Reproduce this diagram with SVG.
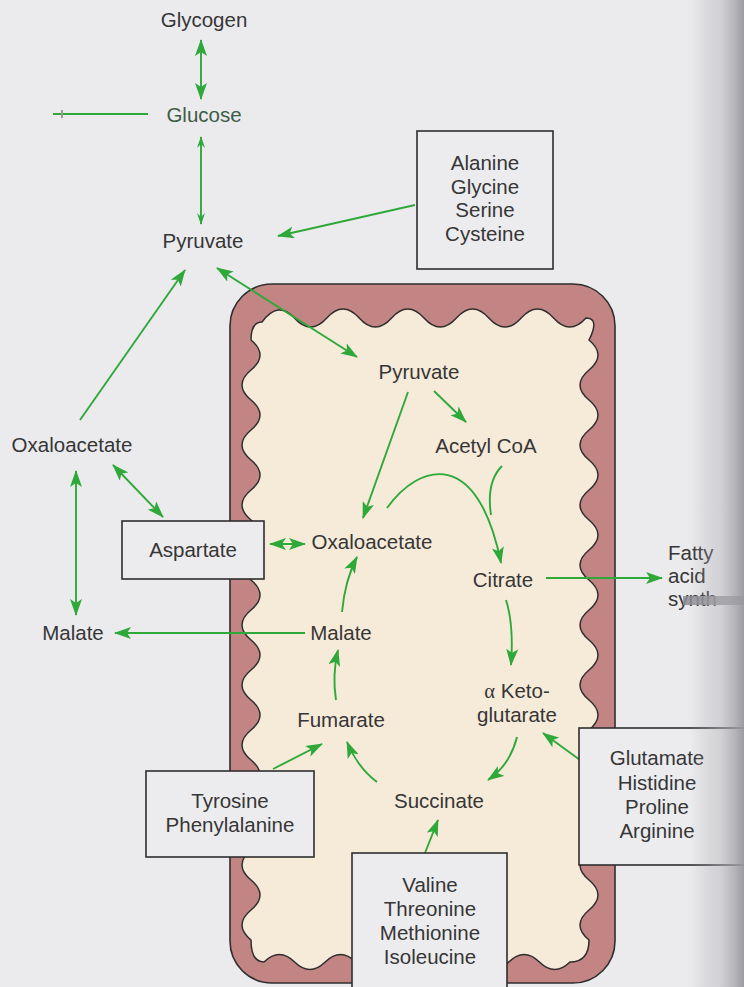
<svg xmlns="http://www.w3.org/2000/svg" width="744" height="987" viewBox="0 0 744 987">
  <style>
    .t { font-family: "Liberation Sans", Arial, sans-serif; font-size: 20.5px; fill: #363636; text-anchor: middle; }
    .box { fill: #ececee; stroke: #2e2e2e; stroke-width: 1.6; }
    .c { fill: none; stroke: #2fa83a; stroke-width: 1.9; }
    .e { marker-end: url(#ah); }
    .b { marker-start: url(#ah); marker-end: url(#ah); }
  </style>
  <defs>
    <marker id="ah" viewBox="0 0 17 12" refX="16" refY="6" markerWidth="17" markerHeight="12" markerUnits="userSpaceOnUse" orient="auto-start-reverse">
      <path d="M0,0 L17,6 L0,12 L4,6 Z" fill="#2fa83a"/>
    </marker>
    <marker id="ahs" viewBox="0 0 12 8" refX="11" refY="4" markerWidth="12" markerHeight="8" markerUnits="userSpaceOnUse" orient="auto-start-reverse">
      <path d="M0,0 L12,4 L0,8 L4,4 Z" fill="#2fa83a"/>
    </marker>
    <linearGradient id="fold" x1="0" y1="0" x2="1" y2="0">
      <stop offset="0" stop-color="#9c9ca2" stop-opacity="0"/>
      <stop offset="0.55" stop-color="#b4b4b9" stop-opacity="0.45"/>
      <stop offset="1" stop-color="#97979d" stop-opacity="0.95"/>
    </linearGradient>
  </defs>

  <!-- page -->
  <rect width="744" height="987" fill="#ebebee"/>

  <!-- mitochondrion: outer membrane and wavy inner matrix -->
  <g id="mitochondrion">
    <rect x="230" y="284" width="385" height="699" rx="42" fill="#c38583" stroke="#2e2e2e" stroke-width="1.6"/>
    <path fill="#f6ebd9" stroke="#2e2e2e" stroke-width="1.5" d="M 262 322 Q 278.2 300 294.4 318 T 326.8 318 T 359.2 318 T 391.6 318 T 424 318 T 456.4 318 T 488.8 318 T 521.2 318 T 553.6 318 T 586 318
      Q 600 318 589 340 Q 607 355 589 370 T 589 400 T 589 430 T 589 460 T 589 490 T 589 520 T 589 550 T 589 580 T 589 610 T 589 640 T 589 670 T 589 700 T 589 730 T 589 760 T 589 790 T 589 820 T 589 850 T 589 880 T 589 910 T 589 940
      Q 589 962 570 962 Q 554.7 977 539.4 962 T 508.8 962 T 478.2 962 T 447.6 962 T 417 962 T 386.4 962 T 355.8 962 T 325.2 962 T 294.6 962 T 264 962
      Q 251 962 251 940 Q 233 925 251 910 T 251 880 T 251 850 T 251 820 T 251 790 T 251 760 T 251 730 T 251 700 T 251 670 T 251 640 T 251 610 T 251 580 T 251 550 T 251 520 T 251 490 T 251 460 T 251 430 T 251 400 T 251 370 T 251 340
      Q 251 322 262 322 Z"/>
  </g>

  <!-- connectors -->
  <g id="connectors">
    <path class="c b" d="M 201 40 L 201 99"/>
    <path class="c" style="marker-start:url(#ahs);marker-end:url(#ahs)" d="M 201 137 L 201 224"/>
    <path class="c" stroke-width="1.5" d="M 53 114 L 148 114"/>
    <path d="M 62 110 L 62 118" stroke="#9a9a9a" stroke-width="2"/>
    <path class="c e" d="M 415 205 L 278 236"/>
    <path class="c b" d="M 217 268 L 357 357"/>
    <path class="c e" d="M 80 420 L 185 270"/>
    <path class="c b" d="M 113 465 L 163 517"/>
    <path class="c b" d="M 76 471 L 76 615"/>
    <path class="c b" d="M 270 544 L 305 544"/>
    <path class="c e" d="M 305 633 L 115 633"/>
    <path class="c e" d="M 434 391 L 466 422"/>
    <path class="c e" d="M 408 392 L 363 518"/>
    <path class="c e" d="M 387 508 C 420 462 478 448 501 563"/>
    <path class="c" d="M 502 466 Q 486 482 491 515"/>
    <path class="c e" d="M 546 578 L 662 578"/>
    <path class="c e" d="M 506 600 Q 514 625 511 665"/>
    <path class="c e" d="M 517 737 Q 510 765 488 780"/>
    <path class="c e" d="M 580 760 L 543 733"/>
    <path class="c e" d="M 425 853 L 438 820"/>
    <path class="c e" d="M 377 782 Q 358 768 347 742"/>
    <path class="c e" d="M 273 769 L 322 744"/>
    <path class="c e" d="M 336 700 Q 332 675 338 650"/>
    <path class="c e" d="M 342 612 Q 345 580 357 557"/>
  </g>

  <!-- cytosol metabolites -->
  <g id="glycogen"><text class="t" x="204" y="27">Glycogen</text></g>
  <g id="glucose"><text class="t" x="204" y="122" style="fill:#3d5c46">Glucose</text></g>
  <g id="pyruvate-cytosol"><text class="t" x="203" y="248">Pyruvate</text></g>
  <g id="oxaloacetate-cytosol"><text class="t" x="72" y="452">Oxaloacetate</text></g>
  <g id="malate-cytosol"><text class="t" x="73" y="640">Malate</text></g>

  <g id="box-alanine">
    <rect class="box" x="417" y="131" width="136" height="138"/>
    <text class="t" x="485" y="170">Alanine</text>
    <text class="t" x="485" y="194">Glycine</text>
    <text class="t" x="485" y="217">Serine</text>
    <text class="t" x="485" y="241">Cysteine</text>
  </g>
  <g id="box-aspartate">
    <rect class="box" x="122" y="521" width="142" height="58"/>
    <text class="t" x="193" y="557">Aspartate</text>
  </g>

  <!-- matrix metabolites -->
  <g id="pyruvate-mito"><text class="t" x="419" y="379">Pyruvate</text></g>
  <g id="acetyl-coa"><text class="t" x="486" y="453">Acetyl CoA</text></g>
  <g id="oxaloacetate-mito"><text class="t" x="372" y="549">Oxaloacetate</text></g>
  <g id="citrate"><text class="t" x="503" y="587">Citrate</text></g>
  <g id="malate-mito"><text class="t" x="341" y="640">Malate</text></g>
  <g id="fumarate"><text class="t" x="341" y="727">Fumarate</text></g>
  <g id="ketoglutarate">
    <text class="t" x="517" y="698"><tspan style="font-family:'Liberation Serif',serif">α</tspan> Keto-</text>
    <text class="t" x="517" y="722">glutarate</text>
  </g>
  <g id="succinate"><text class="t" x="439" y="808">Succinate</text></g>

  <g id="fatty-acid">
    <text class="t" x="668" y="560" style="text-anchor:start">Fatty</text>
    <text class="t" x="668" y="583" style="text-anchor:start">acid</text>
    <text class="t" x="668" y="606" style="text-anchor:start">synth</text>
  </g>

  <g id="box-tyrosine">
    <rect class="box" x="146" y="771" width="168" height="86"/>
    <text class="t" x="230" y="808">Tyrosine</text>
    <text class="t" x="230" y="832">Phenylalanine</text>
  </g>
  <g id="box-valine">
    <rect class="box" x="352" y="853" width="155" height="150"/>
    <text class="t" x="430" y="892">Valine</text>
    <text class="t" x="430" y="916">Threonine</text>
    <text class="t" x="430" y="940">Methionine</text>
    <text class="t" x="430" y="964">Isoleucine</text>
  </g>
  <g id="box-glutamate">
    <rect class="box" x="579" y="728" width="190" height="137"/>
    <text class="t" x="657" y="765">Glutamate</text>
    <text class="t" x="657" y="790">Histidine</text>
    <text class="t" x="657" y="814">Proline</text>
    <text class="t" x="657" y="838">Arginine</text>
  </g>

  <!-- shading along the right edge of the page -->
  <rect x="683" y="596" width="61" height="9" fill="#8e8e93" opacity="0.85"/>
  <rect x="690" y="0" width="54" height="987" fill="url(#fold)"/>
</svg>
